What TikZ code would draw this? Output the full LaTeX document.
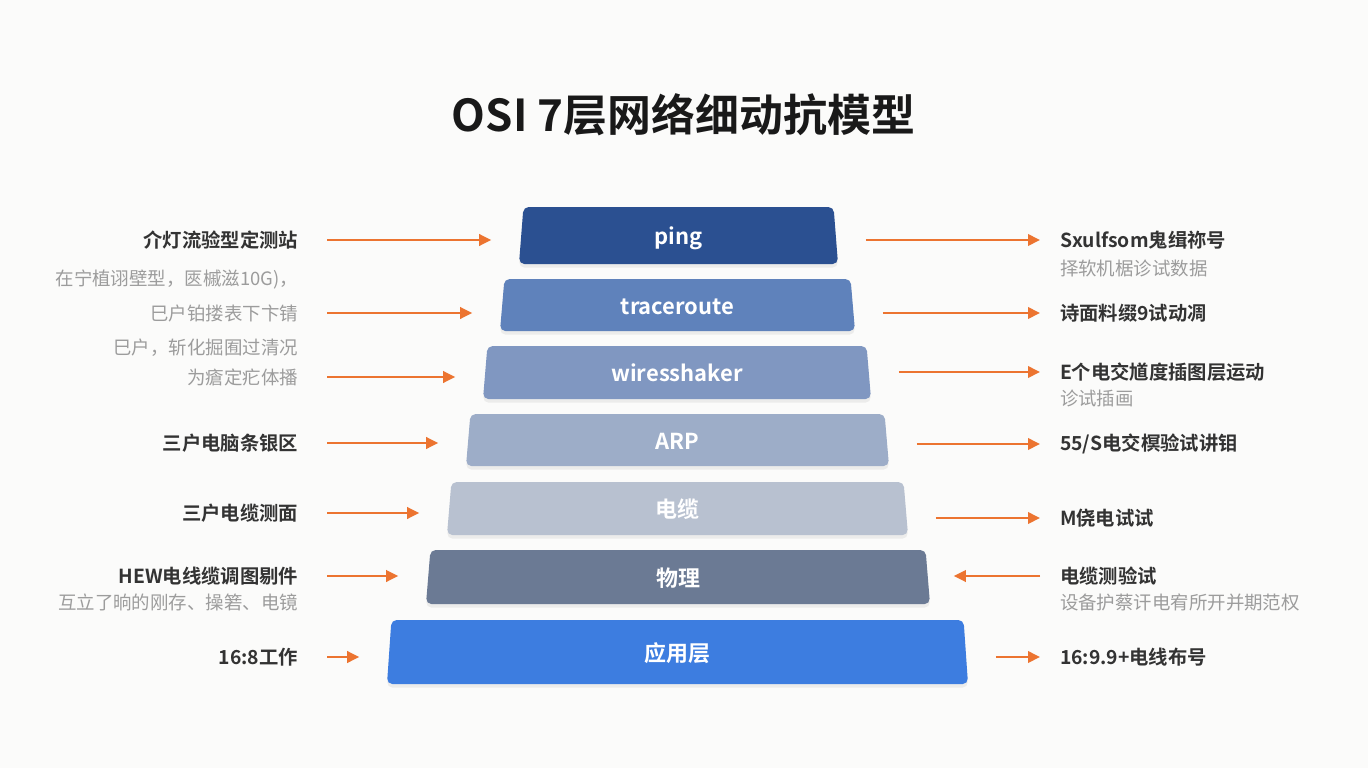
\documentclass[tikz,border=0pt]{standalone}
\usepackage{fontspec}
\setmainfont{Noto Sans CJK SC}[BoldFont={Noto Sans CJK SC Bold}]
\usetikzlibrary{arrows.meta,positioning,calc,shapes.geometric,shadows}
\definecolor{bgpaper}{HTML}{FBFBFA}
\definecolor{cping}{HTML}{2B5091}
\definecolor{ctrace}{HTML}{5F82BB}
\definecolor{cwire}{HTML}{8097C1}
\definecolor{carp}{HTML}{9DADC8}
\definecolor{ccable}{HTML}{B8C1D0}
\definecolor{cphys}{HTML}{6B7A94}
\definecolor{capp}{HTML}{3D7DE0}
\definecolor{arrorange}{HTML}{EC7430}
\definecolor{labdark}{HTML}{333333}
\definecolor{notegray}{HTML}{9C9C9C}

\begin{document}
\begin{tikzpicture}[
  every node/.style={inner sep=0pt,outer sep=0pt},
  layer/.style={trapezium,trapezium left angle=76.5,trapezium right angle=76.5,trapezium stretches body,
    rounded corners=3pt,text=white,font=\fontsize{12.5}{14}\selectfont\bfseries,
    text height=1.05em,text depth=0em,
    drop shadow={opacity=0.12,shadow xshift=0pt,shadow yshift=-2pt}},
  lbl/.style={font=\fontsize{11}{13}\selectfont\bfseries,text=labdark},
  note/.style={font=\fontsize{10.5}{12}\selectfont,text=notegray},
  ar/.style={-{Triangle[length=2.4mm,width=2.3mm]},line width=1.1pt,draw=arrorange}]
\fill[bgpaper] (0,0) rectangle (27.36,-15.36);
\node[font=\fontsize{25}{29}\selectfont\bfseries,text=black!90] (title) at (13.67,-2.30) {OSI 7层网络细动抗模型};
% pyramid
\node[layer,fill=cping,minimum width=6.38cm,minimum height=1.14cm] (ping) at (13.57,-4.71) {ping};
\node[layer,fill=ctrace,minimum width=7.10cm,minimum height=1.04cm] (trace) at (13.55,-6.10) {traceroute};
\node[layer,fill=cwire,minimum width=7.76cm,minimum height=1.06cm] (wire) at (13.54,-7.45) {wiresshaker};
\node[layer,fill=carp,minimum width=8.46cm,minimum height=1.04cm] (arp) at (13.55,-8.80) {ARP};
\node[layer,fill=ccable,minimum width=9.22cm,minimum height=1.06cm] (cable) at (13.55,-10.17) {电缆};
\node[layer,fill=cphys,minimum width=10.08cm,minimum height=1.08cm] (phys) at (13.56,-11.54) {物理};
\node[layer,fill=capp,minimum width=11.62cm,minimum height=1.28cm] (app) at (13.55,-13.04) {应用层};
% left side
\node[lbl,anchor=east] (lt1) at (5.96,-4.80) {介灯流验型定测站};
\node[note,anchor=east] (ln1) at (5.96,-5.60) {在宁植诩壁型，匧槭滋10G)，};
\node[note,anchor=east] (lt2) at (5.96,-6.26) {巳户铂搂表下卞锖};
\node[note,anchor=east] (ln2) at (5.96,-6.96) {巳户，斩化掘囿过清况};
\node[note,anchor=east] (lt3) at (5.96,-7.54) {为瘡定疕体播};
\node[lbl,anchor=east] (lt4) at (5.96,-8.86) {三户电脑条银区};
\node[lbl,anchor=east] (lt5) at (5.96,-10.26) {三户电缆测面};
\node[lbl,anchor=east] (lt6) at (5.96,-11.52) {HEW电线缆调图剔件};
\node[note,anchor=east] (ln6) at (5.96,-12.04) {互立了晌的刚存、操箬、电镜};
\node[lbl,anchor=east] (lt7) at (5.96,-13.14) {16:8工作};
% right side
\node[lbl,anchor=west] (rt1) at (21.20,-4.80) {Sxulfsom鬼缉祢号};
\node[note,anchor=west] (rn1) at (21.20,-5.36) {择软机椐诊试数据};
\node[lbl,anchor=west] (rt2) at (21.20,-6.26) {诗面料缀9试动凋};
\node[lbl,anchor=west] (rt3) at (21.20,-7.44) {E个电交馗度插图层运动};
\node[note,anchor=west] (rn3) at (21.20,-7.96) {诊试插画};
\node[lbl,anchor=west] (rt4) at (21.20,-8.88) {55/S电交榠验试讲钼};
\node[lbl,anchor=west] (rt5) at (21.20,-10.36) {M侥电试试};
\node[lbl,anchor=west] (rt6) at (21.20,-11.52) {电缆测验试};
\node[note,anchor=west] (rn6) at (21.20,-12.04) {设备护蔡讦电宥所开并期范权};
\node[lbl,anchor=west] (rt7) at (21.20,-13.14) {16:9.9+电线布号};
% arrows in
\draw[ar,shorten <=0.58cm,shorten >=0.6cm] (lt1.east) -- (lt1 -| ping.west);
\draw[ar,shorten <=0.58cm,shorten >=0.6cm] (lt2.east) -- (lt2 -| trace.west);
\draw[ar,shorten <=0.58cm,shorten >=0.6cm] (lt3.east) -- (lt3 -| wire.west);
\draw[ar,shorten <=0.58cm,shorten >=0.6cm] (lt4.east) -- (lt4 -| arp.west);
\draw[ar,shorten <=0.58cm,shorten >=0.6cm] (lt5.east) -- (lt5 -| cable.west);
\draw[ar,shorten <=0.58cm,shorten >=0.6cm] (lt6.east) -- (lt6 -| phys.west);
\draw[ar,shorten <=0.58cm,shorten >=0.6cm] (lt7.east) -- (lt7 -| app.west);
% arrows out
\draw[ar,shorten <=0.6cm,shorten >=0.4cm] (rt1 -| ping.east) -- (rt1.west);
\draw[ar,shorten <=0.6cm,shorten >=0.4cm] (rt2 -| trace.east) -- (rt2.west);
\draw[ar,shorten <=0.6cm,shorten >=0.4cm] (rt3 -| wire.east) -- (rt3.west);
\draw[ar,shorten <=0.6cm,shorten >=0.4cm] (rt4 -| arp.east) -- (rt4.west);
\draw[ar,shorten <=0.6cm,shorten >=0.4cm] (rt5 -| cable.east) -- (rt5.west);
\draw[ar,shorten <=0.4cm,shorten >=0.52cm] (rt6.west) -- (rt6 -| phys.east);
\draw[ar,shorten <=0.6cm,shorten >=0.4cm] (rt7 -| app.east) -- (rt7.west);
\end{tikzpicture}
\end{document}
